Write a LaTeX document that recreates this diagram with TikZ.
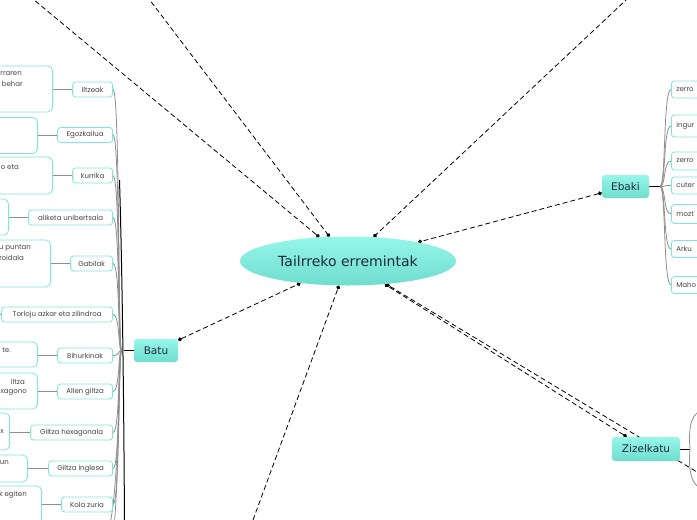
\documentclass[tikz,border=0pt]{standalone}
\usepackage{fontspec}
\setmainfont{DejaVu Sans}
\newfontfamily\smallfont{Poppins}
\usetikzlibrary{arrows.meta,shapes.geometric,backgrounds}
\definecolor{tq}{HTML}{7EE8D8}
\definecolor{ftop}{HTML}{95F7E9}
\definecolor{fbot}{HTML}{6FDDCF}
\definecolor{ink}{HTML}{1E2B38}
\definecolor{sub}{HTML}{454545}
\definecolor{conn}{HTML}{8E8E8E}
\begin{document}
\begin{tikzpicture}[x=1pt,y=-1pt,
  mainnode/.style={top color=ftop,bottom color=fbot,draw=none,text=ink,inner sep=0pt},
  topic/.style={mainnode,rectangle,rounded corners=3pt,font=\fontsize{10.5}{12}\selectfont},
  child/.style={draw=tq,line width=0.8pt,rounded corners=3pt,fill=white,text=sub,
    font=\smallfont\fontsize{7}{8.5}\selectfont,minimum height=15pt,inner sep=0pt,anchor=east},
  echild/.style={draw=tq,line width=0.8pt,rounded corners=3pt,fill=white,text=sub,
    font=\smallfont\fontsize{7}{8.5}\selectfont,inner xsep=5pt,inner ysep=0pt,
    text width=60pt,align=left,anchor=west},
  desc/.style={draw=tq,line width=0.8pt,rounded corners=5pt,fill=white,anchor=east,inner sep=0pt},
  desctext/.style={text=sub,font=\smallfont\fontsize{7}{8.5}\selectfont,inner sep=0pt,anchor=east},
  dl/.style={draw=black,line width=0.8pt,dash pattern=on 5pt off 3pt},
  gl/.style={draw=conn,line width=0.8pt},
  enddot/.style={-{Circle[length=4pt]}},
  bothdot/.style={{Circle[length=4pt]}-{Circle[length=4pt]}}
]
\useasboundingbox (0,0) rectangle (697,520);
\clip (0,0) rectangle (697,520);

% main nodes
\node[mainnode,ellipse,minimum width=216pt,minimum height=49pt,
  font=\fontsize{14}{16}\selectfont] (c) at (348,261) {Tailrreko erremintak};
\node[topic,minimum width=44pt,minimum height=23pt] (batu) at (156,350.5) {Batu};
\node[topic,minimum width=47pt,minimum height=23pt] (ebaki) at (625.5,186.5) {Ebaki};
\node[topic,minimum width=68pt,minimum height=24pt] (zz) at (646,449) {Zizelkatu};

% off-screen ends
\coordinate (t1) at (-20,-45);
\coordinate (t2) at (127,-30);
\coordinate (t3) at (658,-30);
\coordinate (tb) at (242,550);
\coordinate (ta) at (730,492);

% Batu children
\node[child,minimum width=40pt] (l1) at (113,89.5) {Iltzeak};
\node[child,minimum width=55pt] (l2) at (113,135) {Egozkailua};
\node[child,minimum width=40pt] (l3) at (113,175.5) {kurrika};
\node[child,minimum width=84pt] (l4) at (113,217.5) {aliketa unibertsala};
\node[child,minimum width=42pt] (l5) at (113,263.5) {Gabilak};
\node[child,minimum width=111pt] (l6) at (113,314.5) {Torloju azkar eta zilindroa};
\node[child,minimum width=55pt] (l7) at (113,355.5) {Bihurkinak};
\node[child,minimum width=55pt] (l8) at (113,391.5) {Allen giltza};
\node[child,minimum width=82pt] (l9) at (113,432.5) {Giltza hexagonala};
\node[child,minimum width=64pt] (l10) at (113,468.5) {Giltza inglesa};
\node[child,minimum width=51pt] (l11) at (113,504.5) {Kola zuria};
\coordinate (lb1) at (100,545);
\coordinate (lb2) at (100,590);
\coordinate (l6d) at (-5,314.5);
\coordinate (bj) at (121.5,350.5);
\coordinate (bk) at (123.5,350.5);
\coordinate (bt) at (119.5,180);
\coordinate (bb) at (124.5,530);

% description boxes (clipped at left)
\node[desc,minimum width=80pt,minimum height=46pt] (d1) at (53,89) {};
\node[desc,minimum width=80pt,minimum height=36pt] (d2) at (38,135.5) {};
\node[desc,minimum width=80pt,minimum height=37pt] (d3) at (53,175.5) {};
\node[desc,minimum width=60pt,minimum height=36pt] (d4) at (9,217) {};
\node[desc,minimum width=80pt,minimum height=47pt] (d5) at (51,263.5) {};
\node[desc,minimum width=80pt,minimum height=25pt] (d6) at (38,354.5) {};
\node[desc,minimum width=80pt,minimum height=36pt] (d7) at (38,391) {};
\node[desc,minimum width=60pt,minimum height=37pt] (d8) at (10,431.5) {};
\node[desc,minimum width=80pt,minimum height=27pt] (d9) at (28,468.5) {};
\node[desc,minimum width=80pt,minimum height=60pt] (d10) at (42,516) {};

\node[desctext] (x1a) at (22,74) {rraren};
\node[desctext] (x1b) at (23,83.5) {behar};
\node[desctext] (x3a) at (19,167) {o eta};
\node[desctext] (x5a) at (31,248) {u puntan};
\node[desctext] (x5b) at (24,258) {zoidala};
\node[desctext] (x6a) at (11,350) {te.};
\node[desctext] (x7a) at (25,382) {iltza};
\node[desctext] (x7b) at (27,392) {xagono};
\node[desctext] (x8a) at (4,432) {x};
\node[desctext] (x9a) at (9,463) {un};
\node[desctext] (x10a) at (27,494.5) {k egiten};

% Ebaki children
\node[echild,minimum height=17pt] (e1) at (671,89.5) {zerro};
\node[echild,minimum height=22pt] (e2) at (671,126) {ingur};
\node[echild,minimum height=18pt] (e3) at (671,161) {zerro};
\node[echild,minimum height=17pt] (e4) at (671,185.5) {cuter};
\node[echild,minimum height=19pt] (e5) at (671,214) {mozt};
\node[echild,minimum height=17pt] (e6) at (671,249) {Arku};
\node[echild,minimum height=17pt] (e7) at (671,285) {Maho};
\coordinate (ej) at (660,186.5);

% Zizelkatu bracket
\coordinate (zj) at (690,449);
\coordinate (z1) at (706,410);
\coordinate (z2) at (706,489);

\begin{scope}[on background layer]
  \clip (0,0) rectangle (697,520);
  \fill[white] (0,0) rectangle (697,520);
  % dashed relations
  \draw[dl,enddot] (t1) -- (c);
  \draw[dl,enddot] (t2) -- (c);
  \draw[dl,enddot] (t3) -- (c);
  \draw[dl,enddot] (tb) -- (c);
  \draw[dl,enddot] (ta) -- (c);
  \draw[dl,bothdot] (batu) -- (c);
  \draw[dl,bothdot] (ebaki) -- (c);
  \draw[dl,bothdot] (zz) -- (c);
  % Batu tree
  \foreach \n in {l1,l2,l3,l4,l5,l6,l7,l8,l9,l10,l11}{
    \draw[gl] (\n.east) .. controls +(7,0) and (118,350.5) .. (bj);
  }
  \draw[gl] (lb1) .. controls (121,545) and (118,350.5) .. (bj);
  \draw[gl] (lb2) .. controls (121,590) and (118,350.5) .. (bj);
  \draw[black,line width=1pt] (bt) .. controls (122.5,280) and (124,420) .. (bb);
  \draw[black,line width=1pt] (bk) -- (batu.west);
  \foreach \a/\b in {d1/l1,d2/l2,d3/l3,d4/l4,d5/l5,d6/l7,d7/l8,d8/l9,d9/l10,d10/l11}{
    \draw[gl] (\b.west) -- (\b.west -| \a.east);
  }
  \draw[gl] (l6d) -- (l6.west);
  % Ebaki tree
  \draw[black,line width=1pt] (ebaki.east) -- (ej);
  \foreach \n in {e1,e2,e3,e4,e5,e6,e7}{
    \draw[gl] (ej) .. controls +(6,0) and +(-8,0) .. (\n.west);
  }
  % Zizelkatu tree
  \draw[black,line width=1pt] (zz.east) -- (zj);
  \draw[gl] (zj) .. controls (688,425) and (692,410) .. (z1);
  \draw[gl] (zj) .. controls (688,473) and (692,489) .. (z2);
\end{scope}
\end{tikzpicture}
\end{document}
